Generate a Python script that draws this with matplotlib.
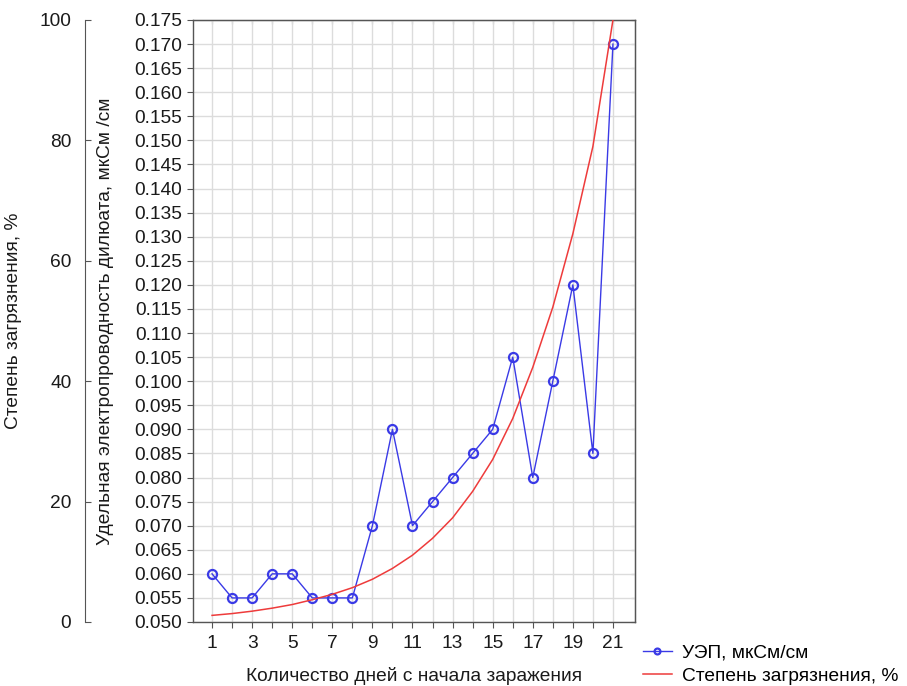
import matplotlib
matplotlib.use('Agg')
import matplotlib.pyplot as plt
from matplotlib.ticker import FormatStrFormatter, MultipleLocator

plt.rcParams['font.family'] = ['Liberation Sans', 'DejaVu Sans']

# Data
days = list(range(1, 22))
uep = [0.060, 0.055, 0.055, 0.060, 0.060, 0.055, 0.055, 0.055, 0.070, 0.090,
       0.070, 0.075, 0.080, 0.085, 0.090, 0.105, 0.080, 0.100, 0.120, 0.085, 0.170]
pollution = [1.1, 1.4, 1.8, 2.3, 2.9, 3.7, 4.6, 5.7, 7.1, 8.9,
             11.1, 13.9, 17.3, 21.7, 27.0, 33.8, 42.3, 52.3, 64.5, 79.0, 100.0]
x_tick_labels = [str(d) if d % 2 == 1 else '' for d in days]

label_uep = 'УЭП, мкСм/см'
label_poll = 'Степень загрязнения, %'
x_title = 'Количество дней с начала заражения'
y_title = 'Удельная электропроводность дилюата, мкСм /см'
y2_title = 'Степень загрязнения, %'

fs = 13.8
text_color = '#1a1a1a'
spine_color = '#555555'
blue = '#3a3ae6'
red = '#ee3b3b'

fig = plt.figure(figsize=(9.07, 6.86), dpi=100)
ax = fig.add_axes([193 / 907, 64 / 686, 442 / 907, 602 / 686])

# Main series (conductivity)
line_uep, = ax.plot(days, uep, color=blue, lw=1.0, marker='o', ms=6.5,
                    mfc='none', mec=blue, mew=1.6, label=label_uep, zorder=3)
ax.set_xlim(0.05, 22.1)
ax.set_ylim(0.050, 0.175)
ax.yaxis.set_major_locator(MultipleLocator(0.005))
ax.yaxis.set_major_formatter(FormatStrFormatter('%.3f'))
ax.set_xticks(days)
ax.set_xticklabels(x_tick_labels)
ax.grid(True, color='#dcdcdc', lw=1.0, zorder=0)
ax.set_axisbelow(True)
ax.tick_params(axis='both', direction='out', length=4, width=0.8, color=spine_color,
               labelsize=fs, labelcolor=text_color)
ax.tick_params(axis='x', pad=5)
ax.tick_params(axis='y', pad=4)
for s in ax.spines.values():
    s.set_color(spine_color)
    s.set_linewidth(1.0)

# Inward ticks on top and right
top = ax.secondary_xaxis('top')
top.set_xticks(days)
top.tick_params(direction='in', length=3, color=spine_color, labeltop=False)
right = ax.secondary_yaxis('right')
right.yaxis.set_major_locator(MultipleLocator(0.005))
right.tick_params(direction='in', length=3, color=spine_color, labelright=False)
for sec in (top, right):
    for s in sec.spines.values():
        s.set_color(spine_color)

ax.set_xlabel(x_title, fontsize=fs, color=text_color)
ax.xaxis.set_label_coords(0.5, -0.074)
ax.set_ylabel(y_title, fontsize=fs, color=text_color)
ax.yaxis.set_label_coords(-0.178, 0.5)

# Outer axis (pollution percent)
ax2 = ax.twinx()
line_poll, = ax2.plot(days, pollution, color=red, lw=1.1, label=label_poll, zorder=4)
ax2.set_ylim(0, 100)
ax2.set_yticks([0, 20, 40, 60, 80, 100])
ax2.yaxis.set_ticks_position('left')
ax2.yaxis.set_label_position('left')
ax2.spines['left'].set_position(('axes', -0.244))
ax2.spines['left'].set_visible(True)
ax2.spines['left'].set_color(spine_color)
for k in ('right', 'top', 'bottom'):
    ax2.spines[k].set_visible(False)
ax2.tick_params(axis='y', direction='in', length=4, width=0.8, color=spine_color,
                labelsize=fs, labelcolor=text_color, pad=10)
ax2.set_ylabel(y2_title, fontsize=fs, color=text_color)
ax2.yaxis.set_label_coords(-0.387, 0.5)

fig.legend(handles=[line_uep, line_poll], loc='upper left',
           bbox_to_anchor=(643 / 907, 1 - 644 / 686), frameon=False,
           fontsize=fs, handlelength=1.5, handletextpad=0.55,
           labelspacing=0.3, borderpad=0, borderaxespad=0, markerscale=0.65)

fig.savefig('out.png', dpi=100)
